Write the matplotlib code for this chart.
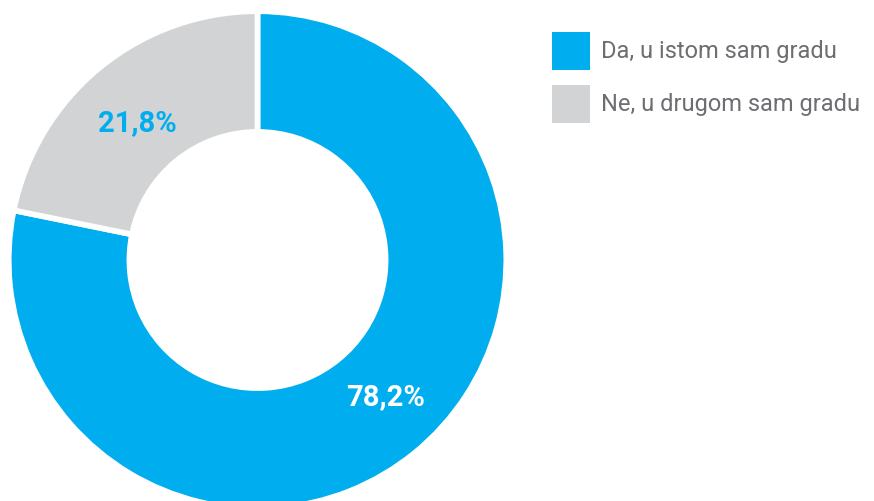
import matplotlib
matplotlib.use("Agg")
import matplotlib.pyplot as plt
from matplotlib.patches import Patch

categories = ["Da, u istom sam gradu", "Ne, u drugom sam gradu"]
values = [78.2, 21.8]
value_labels = ["78,2%", "21,8%"]
colors = ["#00AEEF", "#D1D3D4"]
label_colors = ["white", "#00AEEF"]

W, H = 874, 501
fig = plt.figure(figsize=(W / 100, H / 100), dpi=100)
ax = fig.add_axes([0, 0, 1, 1])

cx, cy, R = 257.5, H - 260, 248.8
width = 120.7
wedges, _ = ax.pie(values, colors=colors, startangle=90, counterclock=False,
                   center=(cx, cy), radius=R,
                   wedgeprops=dict(width=width, edgecolor="white", linewidth=4.1))
ax.set_xlim(0, W)
ax.set_ylim(0, H)
ax.set_aspect("equal")
ax.axis("off")

label_pos = [(386, H - 397), (137, H - 123)]
for (x, y), t, c in zip(label_pos, value_labels, label_colors):
    ax.text(x, y, t, color=c, fontsize=21, fontweight="bold", family="Roboto",
            ha="center", va="center")

handles = [Patch(facecolor=c, edgecolor="none") for c in colors]
leg = ax.legend(handles, categories, loc="upper left",
                bbox_to_anchor=(552 / W, 1 - 32 / H), frameon=False,
                prop=dict(family="Roboto", size=17),
                handlelength=1.61, handleheight=2.1, handletextpad=0.45,
                labelspacing=0.63, borderpad=0, borderaxespad=0)
for t in leg.get_texts():
    t.set_color("#6D6E71")

fig.savefig("out.png", dpi=100)
